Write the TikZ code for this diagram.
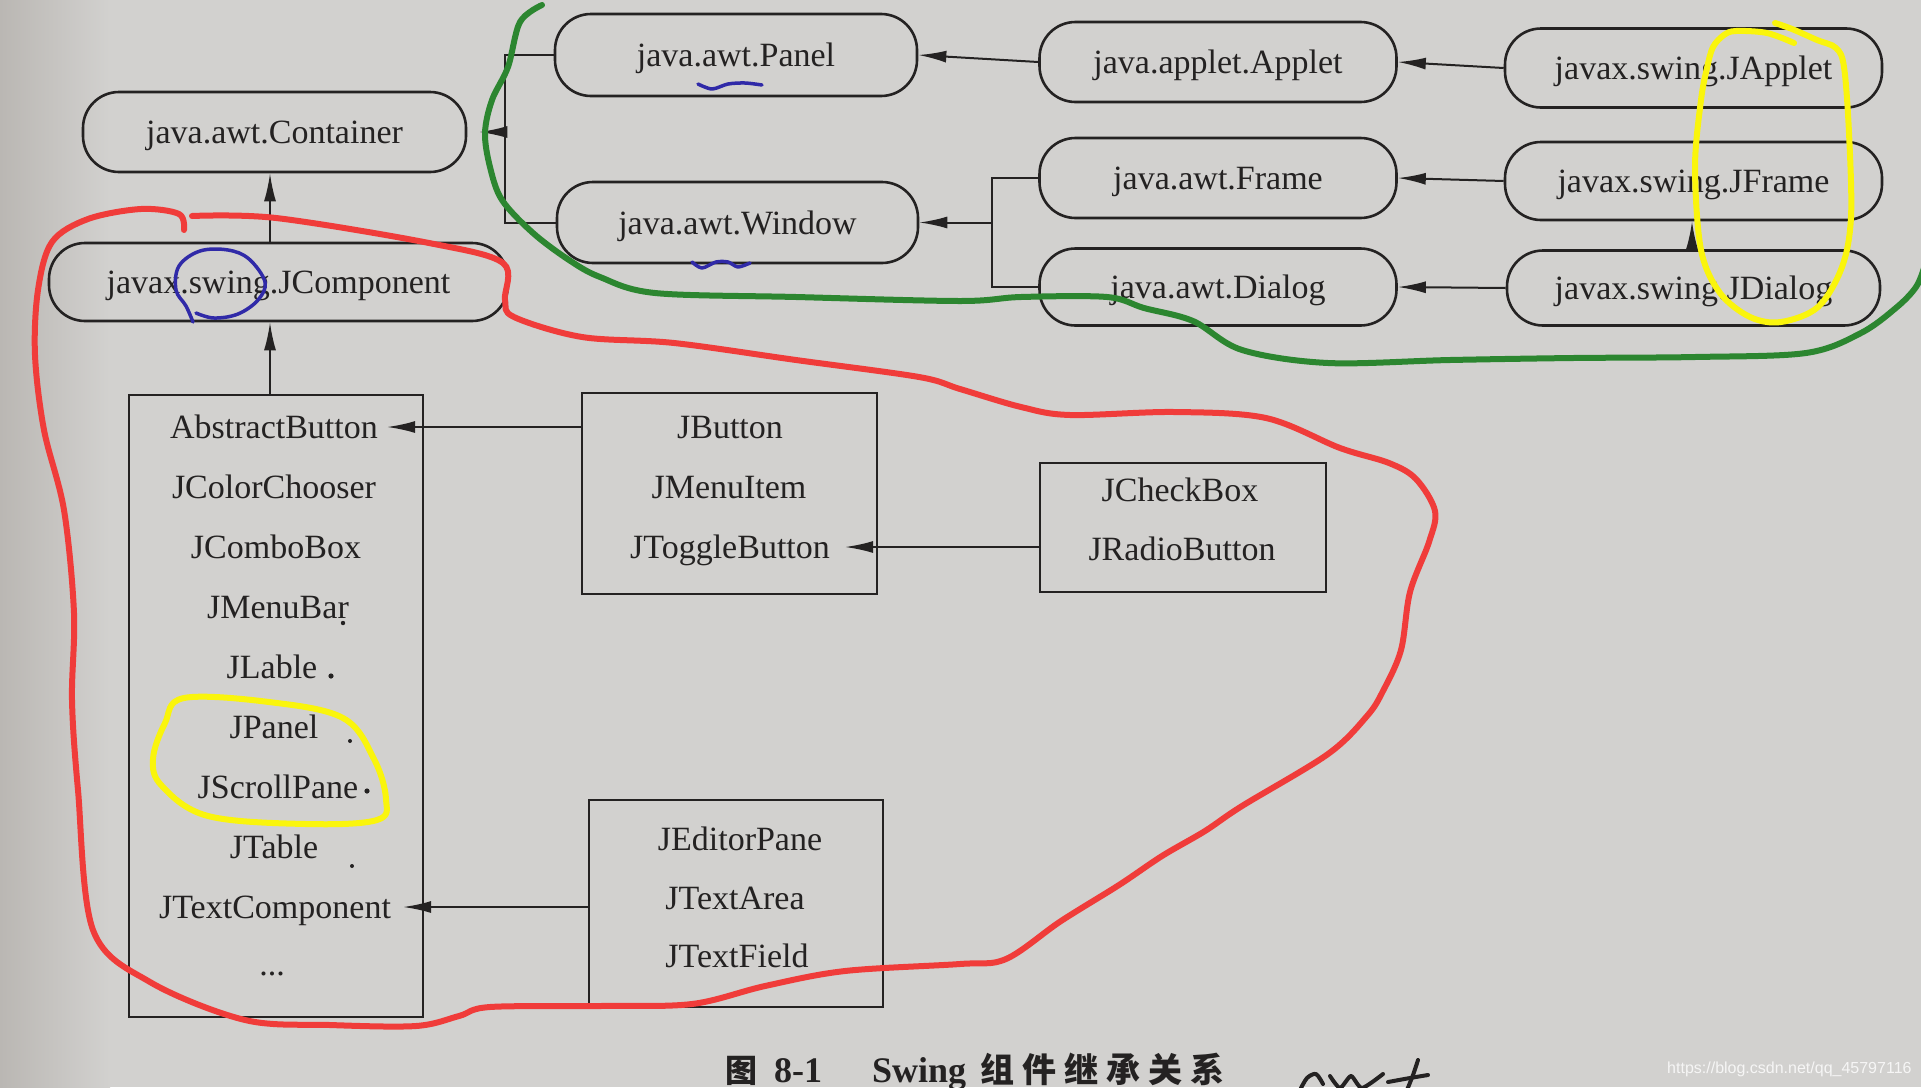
\documentclass[tikz,border=0pt]{standalone}
\usepackage{fontspec}
\setmainfont{Liberation Serif}
\newfontfamily\cjkfont{Noto Sans CJK SC}
\newfontfamily\urlfont{Liberation Sans}
\usetikzlibrary{arrows.meta}
\definecolor{paper}{RGB}{210,209,207}
\definecolor{paperedge}{RGB}{186,183,179}
\definecolor{ink}{RGB}{36,34,34}
\definecolor{penred}{RGB}{240,60,58}
\definecolor{pengreen}{RGB}{44,134,48}
\definecolor{penyellow}{RGB}{250,245,12}
\definecolor{penblue}{RGB}{48,42,168}
\newcommand\lblfont{\fontsize{34}{40}\selectfont}

\begin{document}
\begin{tikzpicture}[x=1pt,y=-1pt,
  pill/.style={draw=ink, line width=2.6pt, rounded corners=36pt, minimum height=80pt,
    text height=23pt, text depth=0pt, inner sep=0pt, font=\lblfont, text=ink},
  listbox/.style={draw=ink, line width=2.6pt, inner sep=0pt},
  item/.style={font=\lblfont, text=ink, text height=23pt, text depth=0pt, inner sep=3pt},
  link/.style={draw=ink, line width=2pt},
  arr/.style={link, -{Latex[length=28pt,width=12pt]}},
  pen/.style={line width=6pt, line cap=round, line join=round},
  thinpen/.style={line width=3.5pt, line cap=round, line join=round},
  speck/.style={fill=ink},
  caption/.style={anchor=base west, inner sep=0pt, text=ink},
]
% page
\useasboundingbox (0,0) rectangle (1921,1087);
\fill[paper] (0,0) rectangle (1921,1087);
\shade[left color=paperedge, right color=paper] (0,0) rectangle (110,1087);

% AWT / applet classes (rounded boxes)
\node[pill, minimum width=383pt] (container) at (274.5,132) {java.awt.Container};
\node[pill, minimum width=459pt, minimum height=78pt] (jcomponent) at (278.5,282) {javax.swing.JComponent};
\node[pill, minimum width=362pt, minimum height=82pt] (panel) at (736,55) {java.awt.Panel};
\node[pill, minimum width=361pt, minimum height=81pt] (window) at (737.5,222.5) {java.awt.Window};
\node[pill, minimum width=357pt] (applet) at (1218,62) {java.applet.Applet};
\node[pill, minimum width=357pt] (frame) at (1218,178) {java.awt.Frame};
\node[pill, minimum width=357pt, minimum height=77pt] (dialog) at (1218,287) {java.awt.Dialog};
\node[pill, minimum width=377pt, minimum height=79pt] (japplet) at (1693.5,68) {javax.swing.JApplet};
\node[pill, minimum width=377pt, minimum height=78pt] (jframe) at (1693.5,181) {javax.swing.JFrame};
\node[pill, minimum width=373pt, minimum height=75pt] (jdialog) at (1693.5,288) {javax.swing.JDialog};

% Swing component groups (plain boxes)
\node[listbox, minimum width=294pt, minimum height=622pt] (jcbox) at (276,706) {};
\node[listbox, minimum width=295pt, minimum height=201pt] (btnbox) at (729.5,493.5) {};
\node[listbox, minimum width=286pt, minimum height=129pt] (chkbox) at (1183,527.5) {};
\node[listbox, minimum width=294pt, minimum height=207pt] (txtbox) at (736,903.5) {};

% JComponent subclasses
\node[item] (abstractbutton) at (274,427) {AbstractButton};
\node[item] (jcolorchooser) at (274,487) {JColorChooser};
\node[item] (jcombobox) at (276,547) {JComboBox};
\node[item] (jmenubar) at (278,607) {JMenuBar};
\node[item] (jlable) at (272,667) {JLable};
\node[item] (jpanel) at (274,727) {JPanel};
\node[item] (jscrollpane) at (278,787) {JScrollPane};
\node[item] (jtable) at (274,847) {JTable};
\node[item] (jtextcomponent) at (275,907) {JTextComponent};
\node[item] (more) at (272,964) {...};

% AbstractButton subclasses
\node[item] (jbutton) at (730,427) {JButton};
\node[item] (jmenuitem) at (729,487) {JMenuItem};
\node[item] (jtogglebutton) at (730,547) {JToggleButton};

% JToggleButton subclasses
\node[item] (jcheckbox) at (1180,490) {JCheckBox};
\node[item] (jradiobutton) at (1182,549) {JRadioButton};

% JTextComponent subclasses
\node[item] (jeditorpane) at (740,839) {JEditorPane};
\node[item] (jtextarea) at (735,898) {JTextArea};
\node[item] (jtextfield) at (737,956) {JTextField};

% small pencil specks beside the list
\fill[speck] (343,623) circle (2.2pt);
\fill[speck] (331,676) circle (2.6pt);
\fill[speck] (350,741) circle (2pt);
\fill[speck] (367,791) circle (2.6pt);
\fill[speck] (352,866) circle (2pt);

% inheritance connectors
\coordinate (stemx) at (270,0);
\draw[arr] (jcomponent.north -| stemx) -- (container.south -| stemx);
\draw[arr] (jcbox.north -| stemx) -- (jcomponent.south -| stemx);

\coordinate (pwjoin) at (505,132);
\draw[link] (panel.west) -| (pwjoin) |- (window.west);
\draw[arr, shorten >=12pt] (pwjoin) -- (container.east);

\draw[arr] (applet.west) -- (panel.east);
\coordinate (fdjoin) at (992,222.5);
\draw[link] (frame.west) -| (fdjoin) |- (dialog.west);
\draw[arr] (fdjoin) -- (window.east);

\draw[arr] (japplet.west) -- (applet.east);
\draw[arr] (jframe.west) -- (frame.east);
\draw[arr] (jdialog.west) -- (dialog.east);
\coordinate (upx) at (1692,0);
\draw[arr] (jdialog.north -| upx) -- (jframe.south -| upx);

\draw[arr, shorten >=6pt] (btnbox.west |- abstractbutton) -- (abstractbutton.east);
\draw[arr, shorten >=12pt] (chkbox.west |- jtogglebutton) -- (jtogglebutton.east);
\draw[arr, shorten >=9pt] (txtbox.west |- jtextcomponent) -- (jtextcomponent.east);

% caption
\node[caption, font=\cjkfont\bfseries\fontsize{32}{36}\selectfont] (capfig) at (725,1082) {图};
\node[caption, font=\bfseries\fontsize{36}{40}\selectfont] (capnum) at (774,1082) {8-1};
\node[caption, font=\bfseries\fontsize{36}{40}\selectfont] (capswing) at (872,1082) {Swing};
\node[caption, font=\cjkfont\bfseries\fontsize{34}{40}\selectfont] (captitle) at (980,1082) {组\hspace{8pt}件\hspace{8pt}继\hspace{8pt}承\hspace{8pt}关\hspace{8pt}系};

% site mark
\node[anchor=base west, inner sep=0pt, text=white, opacity=0.8, font=\urlfont\fontsize{16}{20}\selectfont] (sitemark) at (1667,1073) {https://blog.csdn.net/qq\_45797116};

% handwriting at the foot of the page
\draw[ink, thinpen, line width=4pt] plot[smooth] coordinates {(1300,1090) (1307,1078) (1316,1074) (1323,1084)};
\draw[ink, thinpen, line width=4pt] plot[smooth, tension=0.4] coordinates {(1330,1076) (1340,1088) (1351,1076) (1362,1088) (1383,1074)};
\draw[ink, thinpen, line width=4pt] plot[smooth] coordinates {(1418,1060) (1413,1075) (1407,1090)};
\draw[ink, thinpen, line width=4pt] plot[smooth] coordinates {(1388,1082) (1410,1078) (1428,1075)};

% marker annotations
\draw[pen, penred] plot[smooth, tension=0.55] coordinates {(184,230) (179,214) (141,209) (88,219) (52,242) (38,290) (35,355) (44,430) (64,510) (74,613) (72,700) (78,790) (93,930) (150,982) (245,1020) (330,1025) (416,1026) (459,1016) (490,1007) (600,1006) (692,1004) (765,986) (845,971) (960,964) (1006,959) (1061,921) (1119,885) (1162,856) (1205,831) (1242,806) (1328,754) (1367,716) (1383,691) (1401,650) (1410,592) (1429,542) (1435,511) (1416,479) (1389,463) (1340,448) (1266,418) (1174,412) (1070,415) (1021,407) (960,389) (919,377) (796,360) (674,343) (582,337) (514,317) (505,300) (503,263) (429,243) (276,218) (192,216)};

\draw[pen, pengreen] plot[smooth, tension=0.55] coordinates {(542,5) (520,22) (508,67) (492,100) (485,133) (490,167) (502,200) (533,233) (569,260) (600,277) (655,293) (796,297) (960,301) (1021,297) (1107,297) (1144,308) (1193,321) (1242,350) (1328,363) (1450,360) (1573,358) (1695,357) (1806,353) (1861,333) (1897,307) (1916,287) (1924,268)};

\draw[pen, penyellow] plot[smooth, tension=0.55] coordinates {(1775,23) (1792,29) (1817,40) (1836,48) (1844,67) (1849,133) (1851,217) (1842,267) (1818,307) (1781,322) (1750,317) (1720,293) (1701,250) (1695,167) (1701,100) (1707,68) (1713,47) (1724,35) (1736,31) (1767,33) (1794,43)};
\draw[pen, penyellow] plot[smooth cycle, tension=0.6] coordinates {(184,698) (269,702) (343,718) (374,759) (386,799) (377,820) (306,824) (208,816) (162,786) (153,759) (165,723)};

\draw[thinpen, penblue] plot[smooth, tension=0.6] coordinates {(193,322) (186,306) (176,290) (179,266) (200,251) (228,250) (249,259) (265,282) (258,300) (238,314) (214,318) (196,313)};
\draw[thinpen, penblue] plot[smooth] coordinates {(698,84) (712,89) (728,84) (745,83) (762,85)};
\draw[thinpen, penblue] plot[smooth] coordinates {(692,262) (702,268) (716,262) (728,262) (738,267) (750,263)};
\end{tikzpicture}
\end{document}
